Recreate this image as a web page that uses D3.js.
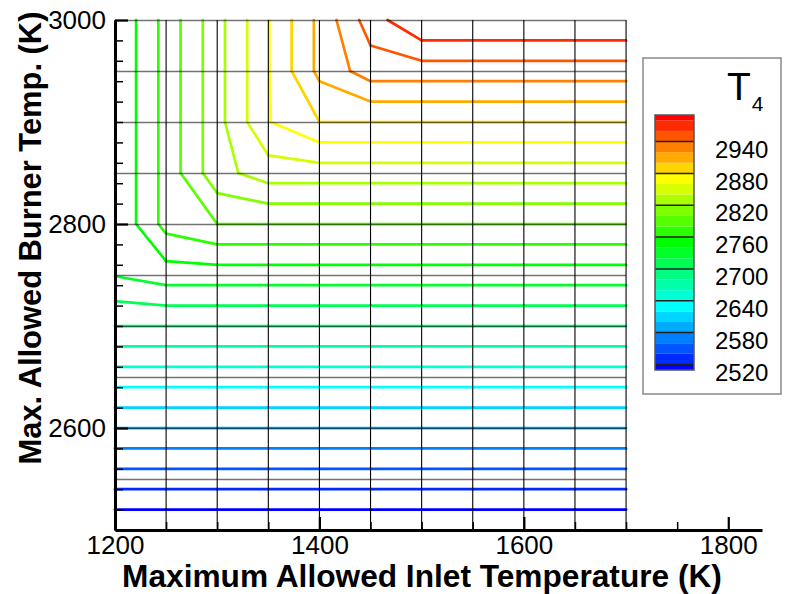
<!DOCTYPE html>
<html>
<head>
<meta charset="utf-8">
<script src="https://cdn.jsdelivr.net/npm/d3@7"></script>
<style>
body { margin: 0; background: #fff; }
svg { font-family: "Liberation Sans", Arial, sans-serif; }
</style>
</head>
<body>
<svg id="chart" width="785" height="594"></svg>
<script>
// mesh nodes
var inletT = [1200, 1250, 1300, 1350, 1400, 1450, 1500, 1550, 1600, 1650, 1700];
var burnerT = [2500, 2550, 2600, 2650, 2700, 2750, 2800, 2850, 2900, 2950, 3000];

// T4 at each node, one row per burner temp (bottom row first)
var t4 = [
    [2500, 2500, 2500, 2500, 2500, 2500, 2500, 2500, 2500, 2500, 2500],
    [2550, 2550, 2550, 2550, 2550, 2550, 2550, 2550, 2550, 2550, 2550],
    [2600, 2600, 2600, 2600, 2600, 2600, 2600, 2600, 2600, 2600, 2600],
    [2650, 2650, 2650, 2650, 2650, 2650, 2650, 2650, 2650, 2650, 2650],
    [2700, 2700, 2700, 2700, 2700, 2700, 2700, 2700, 2700, 2700, 2700],
    [2741, 2750, 2750, 2750, 2750, 2750, 2750, 2750, 2750, 2750, 2750],
    [2741, 2787, 2800, 2800, 2800, 2800, 2800, 2800, 2800, 2800, 2800],
    [2741, 2787, 2833, 2850, 2850, 2850, 2850, 2850, 2850, 2850, 2850],
    [2741, 2787, 2833, 2879, 2900, 2900, 2900, 2900, 2900, 2900, 2900],
    [2741, 2787, 2833, 2879, 2925, 2950, 2950, 2950, 2950, 2950, 2950],
    [2741, 2787, 2833, 2879, 2925, 2970, 3000, 3000, 3000, 3000, 3000]
];

var levels = [2520, 2540, 2560, 2580, 2600, 2620, 2640, 2660, 2680, 2700, 2720, 2740,
              2760, 2780, 2800, 2820, 2840, 2860, 2880, 2900, 2920, 2940, 2960, 2980];
var bandTops = levels.concat([3000]);

var xTicks = [1200, 1400, 1600, 1800];
var xMinor = [1250, 1300, 1350, 1450, 1500, 1550, 1650, 1700, 1750];
var yTicks = [2600, 2800, 3000];
var yMinor = [2520, 2540, 2560, 2580, 2620, 2640, 2660, 2680, 2700, 2720, 2740, 2760, 2780,
              2820, 2840, 2860, 2880, 2900, 2920, 2940, 2960, 2980];
var legendTicks = [2520, 2580, 2640, 2700, 2760, 2820, 2880, 2940];

var svg = d3.select("#chart");

var x = d3.scaleLinear().domain([1200, 1833]).range([115, 762]);
var y = d3.scaleLinear().domain([2500, 3000]).range([530, 20]);

var color = d3.scaleLinear()
    .domain([2520, 2640, 2760, 2880, 3000])
    .range(["#0000ff", "#00ffff", "#00ff00", "#ffff00", "#ff0000"]);

// marching squares on the mesh, one segment per cell
function contourSegments(level) {
    var segs = [];
    for (var j = 0; j < burnerT.length - 1; j++) {
        for (var i = 0; i < inletT.length - 1; i++) {
            var c = [[i, j], [i + 1, j], [i + 1, j + 1], [i, j + 1]];
            var pts = [];
            for (var k = 0; k < 4; k++) {
                var a = c[k], b = c[(k + 1) % 4];
                var va = t4[a[1]][a[0]], vb = t4[b[1]][b[0]];
                if ((va >= level) !== (vb >= level)) {
                    var f = (level - va) / (vb - va);
                    pts.push([
                        inletT[a[0]] + f * (inletT[b[0]] - inletT[a[0]]),
                        burnerT[a[1]] + f * (burnerT[b[1]] - burnerT[a[1]])
                    ]);
                }
            }
            if (pts.length >= 2) segs.push([pts[0], pts[1]]);
            if (pts.length === 4) segs.push([pts[2], pts[3]]);
        }
    }
    return segs.filter(function (s) {
        return s[0][0] != s[1][0] || s[0][1] != s[1][1];
    });
}

var line = d3.line()
    .x(function (d) { return x(d[0]); })
    .y(function (d) { return y(d[1]); });

var contours = svg.append("g").attr("class", "contours");
levels.forEach(function (lv) {
    contours.selectAll(null)
        .data(contourSegments(lv))
        .enter()
        .append("path")
        .attr("d", line)
        .attr("fill", "none")
        .attr("stroke", color(lv))
        .attr("stroke-width", 2.7)
        .attr("stroke-linecap", "round");
});

// mesh drawn over the contour lines
var mesh = svg.append("g").attr("class", "mesh");
mesh.selectAll(".vl")
    .data(inletT)
    .enter()
    .append("line")
    .attr("x1", function (d) { return x(d); })
    .attr("x2", function (d) { return x(d); })
    .attr("y1", y(burnerT[0]))
    .attr("y2", y(burnerT[burnerT.length - 1]))
    .attr("stroke", "#000")
    .attr("stroke-width", 1.1);
mesh.selectAll(".hl")
    .data(burnerT)
    .enter()
    .append("line")
    .attr("x1", x(inletT[0]))
    .attr("x2", x(inletT[inletT.length - 1]))
    .attr("y1", function (d) { return y(d) + 0.5; })
    .attr("y2", function (d) { return y(d) + 0.5; })
    .attr("stroke", "#000")
    .attr("stroke-opacity", 0.55)
    .attr("stroke-width", 1.6);

// axes
var xAxis = svg.append("g")
    .attr("transform", "translate(0," + y(2500) + ")")
    .call(d3.axisBottom(x).tickValues(xTicks).tickSize(-13).tickSizeOuter(0).tickPadding(6).tickFormat(d3.format("d")));
var xAxisMinor = svg.append("g")
    .attr("transform", "translate(0," + y(2500) + ")")
    .call(d3.axisBottom(x).tickValues(xMinor).tickSize(-8).tickSizeOuter(0).tickFormat(""));
var yAxis = svg.append("g")
    .attr("transform", "translate(" + x(1200) + ",0)")
    .call(d3.axisLeft(y).tickValues(yTicks).tickSize(-13).tickSizeOuter(0).tickPadding(9).tickFormat(d3.format("d")));
var yAxisMinor = svg.append("g")
    .attr("transform", "translate(" + x(1200) + ",0)")
    .call(d3.axisLeft(y).tickValues(yMinor).tickSize(-8).tickSizeOuter(0).tickFormat(""));

[xAxis, yAxis].forEach(function (g) {
    g.select(".domain").attr("stroke", "#000").attr("stroke-width", 3);
    g.selectAll(".tick line").attr("stroke", "#000").attr("stroke-width", 2.2);
    g.selectAll(".tick text").attr("font-size", 26).attr("fill", "#000")
        .attr("font-family", "Liberation Sans, Arial, sans-serif");
});
[xAxisMinor, yAxisMinor].forEach(function (g) {
    g.select(".domain").remove();
    g.selectAll(".tick line").attr("stroke", "#000").attr("stroke-width", 1.5);
});

// axis titles, sized to the reference width
var xTitle = svg.append("text")
    .attr("x", 422)
    .attr("y", 587)
    .attr("text-anchor", "middle")
    .attr("font-weight", "bold")
    .attr("font-size", 26)
    .text("Maximum Allowed Inlet Temperature (K)");
xTitle.attr("font-size", 26 * 600 / xTitle.node().getComputedTextLength());

var yTitle = svg.append("text")
    .attr("transform", "translate(41,238) rotate(-90)")
    .attr("text-anchor", "middle")
    .attr("font-weight", "bold")
    .attr("font-size", 26)
    .text("Max. Allowed Burner Temp. (K)");
yTitle.attr("font-size", 26 * 453 / yTitle.node().getComputedTextLength());

// legend
var legend = svg.append("g").attr("class", "legend");
legend.append("rect")
    .attr("x", 643).attr("y", 58)
    .attr("width", 138).attr("height", 336)
    .attr("fill", "#fff")
    .attr("stroke", "#888")
    .attr("stroke-width", 1.5);

var legendMin = 2509.5, legendMax = 2990;
var ly = d3.scaleLinear().domain([legendMin, legendMax]).range([370, 115]);

legend.selectAll(".band")
    .data(bandTops)
    .enter()
    .append("rect")
    .attr("x", 655)
    .attr("width", 39)
    .attr("y", function (d) { return ly(Math.min(d, legendMax)); })
    .attr("height", function (d) {
        return ly(Math.max(d - 20, legendMin)) - ly(Math.min(d, legendMax));
    })
    .attr("fill", function (d) { return color(d); });

legend.selectAll(".sep")
    .data(legendTicks)
    .enter()
    .append("line")
    .attr("x1", 655).attr("x2", 694)
    .attr("y1", function (d) { return ly(d); })
    .attr("y2", function (d) { return ly(d); })
    .attr("stroke", "#222")
    .attr("stroke-width", 1.5);

legend.append("rect")
    .attr("x", 655).attr("y", 115)
    .attr("width", 39).attr("height", 255)
    .attr("fill", "none")
    .attr("stroke", "#555")
    .attr("stroke-width", 1.5);

legend.selectAll(".lab")
    .data(legendTicks)
    .enter()
    .append("text")
    .attr("x", 715)
    .attr("y", function (d) { return ly(d) + 7.5; })
    .attr("dy", "0.36em")
    .attr("font-size", 24)
    .text(function (d) { return d; });

var title = legend.append("text")
    .attr("x", 727)
    .attr("y", 100)
    .attr("font-size", 39)
    .text("T");
title.append("tspan")
    .attr("dy", 11)
    .attr("dx", 1)
    .attr("font-size", 21)
    .text("4");
</script>
</body>
</html>
